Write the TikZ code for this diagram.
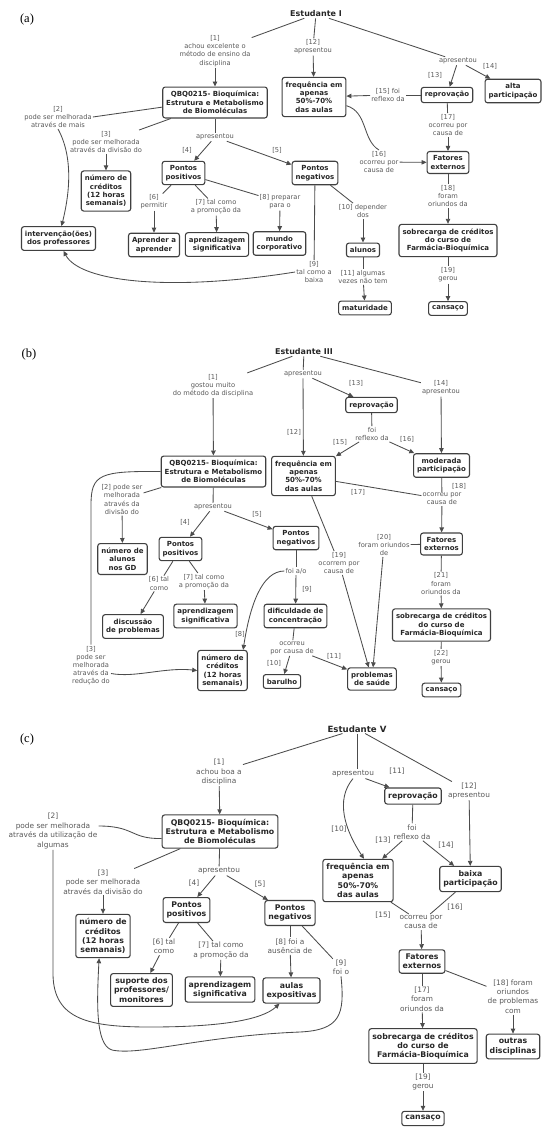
\documentclass[tikz,border=0pt]{standalone}
\usepackage{fontspec}
\setsansfont{DejaVu Sans}
\newfontfamily\panelfont{Liberation Serif}
\usetikzlibrary{arrows.meta}

\tikzset{
  concept/.style={draw=black!75, line width=1.1pt, rounded corners=2.5pt, align=center,
    font=\sffamily\bfseries\fontsize{7}{8.4}\selectfont, inner xsep=3.5pt, inner ysep=4.2pt, text=black!85},
  link/.style={align=center, text=black!65, font=\sffamily\fontsize{6.7}{8.2}\selectfont, inner sep=1pt},
  title/.style={font=\sffamily\bfseries\fontsize{8}{9}\selectfont, text=black!85, inner sep=1pt},
  panel/.style={font=\panelfont\fontsize{12.5}{14}\selectfont},
  conn/.style={draw=black!70, line width=0.85pt},
  arr/.style={conn, -{Triangle[length=5pt,width=4.5pt]}},
}

\begin{document}
\begin{tikzpicture}[x=1pt, y=-1pt]
\useasboundingbox (0,0) rectangle (550,1136);

% (a) Estudante I
\node[panel] (pa) at (27,19) {(a)};
\node[title] (sA) at (316,14) {Estudante I};
\node[link] (l1a) at (215,51) {[1]\\achou excelente o\\método de ensino da\\disciplina};
\node[concept] (qbqA) at (215,102.5) {QBQ0215- Bioquímica:\\Estrutura e Metabolismo\\de Biomoléculas};
\node[link] (l2a) at (58,117) {[2]\\pode ser melhorada\\através de mais};
\node[link] (l3a) at (106,142) {[3]\\pode ser melhorada\\através da divisão do};
\node[concept] (credA) at (106,191) {número de\\créditos\\(12 horas\\semanais)};
\node[link] (apA) at (215,137) {apresentou};
\node[link] (l4a) at (187,150) {[4]};
\node[link] (l5a) at (277,150) {[5]};
\node[concept] (posA) at (183.5,173) {Pontos\\positivos};
\node[concept] (negA) at (315,173) {Pontos\\negativos};
\node[concept] (intA) at (58.5,238.5) {intervenção(ões)\\dos professores};
\node[link] (l6a) at (154,202) {[6]\\permitir};
\node[link] (l7a) at (216,207) {[7] tal como\\a promoção da};
\node[link] (l8a) at (280,202) {[8] preparar\\para o};
\node[concept] (aprA) at (154,245) {Aprender a\\aprender};
\node[concept] (sigA) at (217,244.5) {aprendizagem\\significativa};
\node[concept] (munA) at (279.5,243.5) {mundo\\corporativo};
\node[link] (l9a) at (314,272) {[9]\\tal como a\\baixa};
\node[link] (l10a) at (363,211) {[10] depender\\dos};
\node[concept] (aluA) at (363,250) {alunos};
\node[link] (l11a) at (363,277) {[11] algumas\\vezes não tem};
\node[concept] (matA) at (365,308) {maturidade};
\node[link] (l12a) at (313,47) {[12]\\apresentou};
\node[concept] (freqA) at (314,97) {frequência em\\apenas\\50\%-70\%\\das aulas};
\node[link] (apA2) at (458,61) {apresentou};
\node[link] (l13a) at (435,75) {[13]};
\node[link] (l14a) at (490,66) {[14]};
\node[concept] (repA) at (447,95) {reprovação};
\node[concept] (altA) at (513,91) {alta\\participação};
\node[link] (l15a) at (388,95) {[15] foi\\reflexo da};
\node[link] (l17a) at (448,125) {[17]\\ocorreu por\\causa de};
\node[concept] (fatA) at (448,162.5) {Fatores\\externos};
\node[link] (l16a) at (379,162) {[16]\\ocorreu por\\causa de};
\node[link] (l18a) at (448,196) {[18]\\foram\\oriundos da};
\node[concept] (sobA) at (448,240.5) {sobrecarga de créditos\\do curso de\\Farmácia-Bioquímica};
\node[link] (l19a) at (448,275) {[19]\\gerou};
\node[concept] (canA) at (448,308.5) {cansaço};

\draw[conn] (sA) -- (l1a);
\draw[arr] (l1a) -- (qbqA);
\draw[conn] (qbqA.185) -- (l2a.east);
\draw[arr] (l2a.south) .. controls (75,160) and (68,200) .. ([xshift=3pt]intA.north);
\draw[conn] (qbqA) -- (l3a);
\draw[arr] (l3a) -- (credA);
\draw[conn] (qbqA) -- (apA);
\draw[arr] (apA) -- (posA);
\draw[arr] (apA) -- (negA);
\draw[conn] (posA) -- (l6a);
\draw[arr] (l6a) -- (aprA);
\draw[conn] (posA) -- (l7a);
\draw[arr] (l7a) -- (sigA);
\draw[conn] (posA) -- (l8a);
\draw[arr] (l8a) -- (munA);
\draw[conn] (negA) -- (l9a);
\draw[arr] (l9a.west) .. controls (170,292) and (80,282) .. ([xshift=5pt]intA.south);
\draw[conn] (negA) -- (l10a);
\draw[arr] (l10a) -- (aluA);
\draw[conn] (aluA) -- (l11a);
\draw[arr] (l11a) -- (matA);
\draw[conn] (sA) -- (l12a);
\draw[arr] (l12a) -- (freqA);
\draw[conn] (sA) -- (apA2);
\draw[arr] (apA2) -- (repA);
\draw[arr] (apA2) -- (altA);
\draw[conn] (repA) -- (l15a);
\draw[arr] (l15a) -- (freqA);
\draw[conn] (repA) -- (l17a);
\draw[arr] (l17a) -- (fatA);
\draw[conn] (freqA.-15) .. controls (368,112) and (362,140) .. (l16a.north);
\draw[arr] (l16a) -- (fatA);
\draw[conn] (fatA) -- (l18a);
\draw[arr] (l18a) -- (sobA);
\draw[conn] (sobA) -- (l19a);
\draw[arr] (l19a) -- (canA);

% (b) Estudante III
\node[panel] (pb) at (29,354) {(b)};
\node[title] (sB) at (304,352) {Estudante III};
\node[link] (l1b) at (213,385.5) {[1]\\gostou muito\\do método da disciplina};
\node[concept] (qbqB) at (213.5,471.5) {QBQ0215- Bioquímica:\\Estrutura e Metabolismo\\de Biomoléculas};
\node[link] (l2b) at (122,499.5) {[2] pode ser\\melhorada\\através da\\divisão do};
\node[concept] (aluB) at (122.5,559) {número de\\alunos\\nos GD};
\node[link] (apB) at (213,507) {apresentou};
\node[link] (l4b) at (185,522) {[4]};
\node[link] (l5b) at (257,514) {[5]};
\node[concept] (posB) at (180.5,549) {Pontos\\positivos};
\node[concept] (negB) at (296,538) {Pontos\\negativos};
\node[link] (l3b) at (91,665.5) {[3]\\pode ser\\melhorada\\através da\\redução do};
\node[concept] (credB) at (222.5,670.5) {número de\\créditos\\(12 horas\\semanais)};
\node[link] (l6b) at (159,583.5) {[6] tal\\como};
\node[concept] (disB) at (133,626.5) {discussão\\de problemas};
\node[link] (l7b) at (204,581.5) {[7] tal como\\a promoção da};
\node[concept] (sigB) at (205.5,616) {aprendizagem\\significativa};
\node[link] (foiB) at (296,571) {foi a/o};
\node[link] (l9b) at (307,589) {[9]};
\node[link] (l8b) at (240,634) {[8]};
\node[concept] (difB) at (295.5,616) {dificuldade de\\concentração};
\node[link] (ocoB) at (292,648) {ocorreu\\por causa de};
\node[link] (l10b) at (274,663) {[10]};
\node[link] (l11b) at (334,656) {[11]};
\node[concept] (barB) at (282,681.5) {barulho};
\node[concept] (saudB) at (372,679) {problemas\\de saúde};
\node[link] (apB2) at (303,374) {apresentou};
\node[link] (l12b) at (294,432) {[12]};
\node[link] (l13b) at (356,383) {[13]};
\node[concept] (repB) at (371.5,405) {reprovação};
\node[link] (l14b) at (441,388) {[14]\\apresentou};
\node[concept] (modB) at (441.5,465.5) {moderada\\participação};
\node[link] (refB) at (372,434) {foi\\reflexo da};
\node[link] (l15b) at (340,442) {[15]};
\node[link] (l16b) at (407,439) {[16]};
\node[concept] (freqB) at (303.5,476) {frequência em\\apenas\\50\%-70\%\\das aulas};
\node[link] (l17b) at (358,492) {[17]};
\node[link] (l18b) at (459,486) {[18]};
\node[link] (ocoB2) at (442,499) {ocorreu por\\causa de};
\node[concept] (fatB) at (441.5,544) {Fatores\\externos};
\node[link] (l20b) at (384,545) {[20]\\foram oriundos\\de};
\node[link] (l19b) at (339,563) {[19]\\ocorrem por\\causa de};
\node[link] (l21b) at (441,583.5) {[21]\\foram\\oriundos da};
\node[concept] (sobB) at (441.5,625) {sobrecarga de créditos\\do curso de\\Farmácia-Bioquímica};
\node[link] (l22b) at (441,657.5) {[22]\\gerou};
\node[concept] (canB) at (441.5,690) {cansaço};

\draw[conn] (sB) -- (l1b);
\draw[arr] (l1b) -- (qbqB);
\draw[conn] (qbqB) -- (l2b);
\draw[arr] (l2b) -- (aluB);
\draw[conn] (qbqB.west) .. controls (100,471) and (91,474) .. (91,505) -- (l3b.north);
\draw[arr] ([yshift=-8pt]l3b.east) .. controls (135,678) and (165,667) .. (credB.west);
\draw[conn] (qbqB) -- (apB);
\draw[arr] (apB) -- (posB);
\draw[arr] (apB) -- (negB);
\draw[conn] (posB) -- (l6b);
\draw[arr] (l6b) -- (disB);
\draw[conn] (posB) -- (l7b);
\draw[arr] (l7b) -- (sigB);
\draw[conn] (negB) -- (foiB);
\draw[arr] (foiB) -- (difB);
\draw[arr] (foiB.west) .. controls (262,571) and (250,605) .. (credB.45);
\draw[conn] (difB) -- (ocoB);
\draw[arr] (ocoB) -- (barB);
\draw[arr] (ocoB) -- (saudB);
\draw[conn] (sB) -- (apB2);
\draw[arr] (apB2) -- (freqB);
\draw[arr] (apB2) -- (repB);
\draw[conn] (sB) -- (l14b);
\draw[arr] (l14b) -- (modB);
\draw[conn] (repB) -- (refB);
\draw[arr] (refB) -- (freqB);
\draw[arr] (refB) -- (modB);
\draw[conn] (freqB) -- (ocoB2);
\draw[conn] (modB) -- (ocoB2);
\draw[arr] (ocoB2) -- (fatB);
\draw[conn] (fatB) -- (l20b);
\draw[arr] (l20b) -- (saudB);
\draw[conn] (freqB) -- (l19b);
\draw[arr] (l19b) -- (saudB);
\draw[conn] (fatB) -- (l21b);
\draw[arr] (l21b) -- (sobB);
\draw[conn] (sobB) -- (l22b);
\draw[arr] (l22b) -- (canB);

% (c) Estudante V, set a bit larger
\begin{scope}[concept/.append style={font=\sffamily\bfseries\fontsize{7.8}{9.2}\selectfont},
  link/.append style={font=\sffamily\fontsize{7.4}{9.4}\selectfont},
  title/.append style={font=\sffamily\bfseries\fontsize{8.6}{10}\selectfont}]
\node[panel] (pc) at (27,739) {(c)};
\node[title] (sC) at (357,729) {Estudante V};
\node[link] (l1c) at (219,772) {[1]\\achou boa a\\disciplina};
\node[concept] (qbqC) at (220,831.5) {QBQ0215- Bioquímica:\\Estrutura e Metabolismo\\de Biomoléculas};
\node[link] (l2c) at (53,831) {[2]\\pode ser melhorada\\através da utilização de\\algumas};
\node[link] (l3c) at (103,882) {[3]\\pode ser melhorada\\através da divisão do};
\node[concept] (credC) at (103,936) {número de\\créditos\\(12 horas\\semanais)};
\node[link] (apC) at (219,871) {apresentou};
\node[link] (l4c) at (194,883) {[4]};
\node[link] (l5c) at (260,884) {[5]};
\node[concept] (posC) at (186.5,910) {Pontos\\positivos};
\node[concept] (negC) at (290,913) {Pontos\\negativos};
\node[link] (l6c) at (164,946.5) {[6] tal\\como};
\node[concept] (supC) at (141.5,990) {suporte dos\\professores/\\monitores};
\node[link] (l7c) at (221,950.5) {[7] tal como\\a promoção da};
\node[concept] (sigC) at (220,989.5) {aprendizagem\\significativa};
\node[link] (l8c) at (290,946) {[8] foi a\\ausência de};
\node[concept] (aulC) at (291.5,990.5) {aulas\\expositivas};
\node[link] (l9c) at (341,967.5) {[9]\\foi o};
\node[link] (apC2) at (353,774) {apresentou};
\node[link] (l11c) at (397,771) {[11]};
\node[concept] (repC) at (413,796) {reprovação};
\node[link] (l12c) at (469,791) {[12]\\apresentou};
\node[link] (l10c) at (339,829) {[10]};
\node[link] (refC) at (412,832) {foi\\reflexo da};
\node[link] (l13c) at (383,840) {[13]};
\node[link] (l14c) at (446,845) {[14]};
\node[concept] (freqC) at (358,880.5) {frequência em\\apenas\\50\%-70\%\\das aulas};
\node[concept] (baiC) at (470.5,879) {baixa\\participação};
\node[link] (l15c) at (383,915) {[15]};
\node[link] (l16c) at (455,907) {[16]};
\node[link] (ocoC) at (421,922) {ocorreu por\\causa de};
\node[concept] (fatC) at (422,961.5) {Fatores\\externos};
\node[link] (l17c) at (422,999) {[17]\\foram\\oriundos da};
\node[concept] (sobC) at (423,1046) {sobrecarga de créditos\\do curso de\\Farmácia-Bioquímica};
\node[link] (l18c) at (513,996.5) {[18] foram\\oriundos\\de problemas\\com};
\node[concept] (outC) at (513,1046.5) {outras\\disciplinas};
\node[link] (l19c) at (423,1082) {[19]\\gerou};
\node[concept] (canC) at (423,1118.5) {cansaço};

\draw[conn] (sC) -- (l1c);
\draw[arr] (l1c) -- (qbqC);
\draw[conn] ([yshift=-7pt]qbqC.west) .. controls (130,839) and (135,826) .. ([yshift=5pt]l2c.east);
\draw[arr] (l2c.south) -- (53,975) .. controls (54,1020) and (90,1027) .. (150,1027)
  .. controls (220,1027) and (262,1020) .. ([xshift=17pt]aulC.south west);
\draw[conn] (qbqC) -- (l3c);
\draw[arr] (l3c) -- (credC);
\draw[conn] (qbqC) -- (apC);
\draw[arr] (apC) -- (posC);
\draw[arr] (apC) -- (negC);
\draw[conn] (posC) -- (l6c);
\draw[arr] (l6c) -- (supC);
\draw[conn] (posC) -- (l7c);
\draw[arr] (l7c) -- (sigC);
\draw[conn] (negC) -- (l8c);
\draw[arr] (l8c) -- (aulC);
\draw[conn] (negC) -- (l9c);
\draw[arr] (l9c.south) .. controls (345,1015) and (340,1030) .. (300,1032)
  .. controls (200,1036) and (140,1056) .. (112,1050)
  .. controls (95,1045) and (97,1000) .. (credC.-100);
\draw[conn] (sC.south) -- (sC.south |- apC2.north);
\draw[arr] (apC2) -- (repC);
\draw[arr] (apC2.south) .. controls (335,800) and (345,830) .. ([xshift=6pt]freqC.north);
\draw[conn] (sC) -- (l12c);
\draw[arr] (l12c) -- (baiC);
\draw[conn] (repC) -- (refC);
\draw[arr] (refC) -- (freqC);
\draw[arr] (refC) -- (baiC);
\draw[conn] (freqC) -- (ocoC);
\draw[conn] (baiC) -- (ocoC);
\draw[arr] (ocoC) -- (fatC);
\draw[conn] (fatC) -- (l17c);
\draw[arr] (l17c) -- (sobC);
\draw[conn] (fatC) -- (l18c);
\draw[arr] (l18c) -- (outC);
\draw[conn] (sobC) -- (l19c);
\draw[arr] (l19c) -- (canC);
\end{scope}
\end{tikzpicture}
\end{document}
